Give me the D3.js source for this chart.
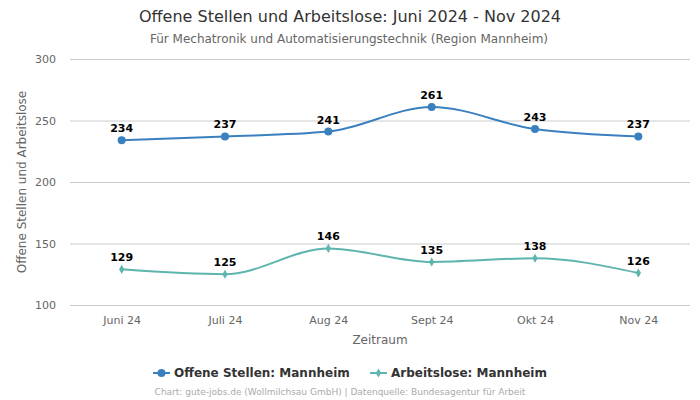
<!DOCTYPE html>
<html><head><meta charset="utf-8">
<script src="https://cdn.jsdelivr.net/npm/d3@7"></script>
<style>body{margin:0;background:#fff;font-family:"DejaVu Sans",sans-serif;}</style>
</head><body><svg id="c" width="700" height="400"></svg>
<script>
const categories = ["Juni 24","Juli 24","Aug 24","Sept 24","Okt 24","Nov 24"];
const offeneStellen = [234,237,241,261,243,237];
const arbeitslose = [129,125,146,135,138,126];
const yTicks = [100,150,200,250,300];
const seriesNames = ["Offene Stellen: Mannheim","Arbeitslose: Mannheim"];

const svg = d3.select("#c");
const pLeft=70,pRight=690,pTop=59,pBottom=305;
const x = d3.scalePoint().domain(categories).range([pLeft,pRight]).padding(0.5);
const y = d3.scaleLinear().domain([100,300]).range([pBottom,pTop]);

svg.append("text").attr("x",350).attr("y",22).attr("text-anchor","middle")
  .attr("font-size",16).attr("fill","#333").text("Offene Stellen und Arbeitslose: Juni 2024 - Nov 2024");
svg.append("text").attr("x",349).attr("y",43).attr("text-anchor","middle")
  .attr("font-size",12).attr("fill","#666").text("Für Mechatronik und Automatisierungstechnik (Region Mannheim)");

const yAxis = d3.axisLeft(y).tickValues(yTicks).tickSize(-(pRight-pLeft)).tickPadding(14);
const gy = svg.append("g").attr("transform",`translate(${pLeft},0)`).call(yAxis);
gy.select(".domain").remove();
gy.selectAll("line").attr("stroke","#ccc");
gy.selectAll("text").attr("font-size",11).attr("fill","#666").attr("font-family","DejaVu Sans");

const xAxis = d3.axisBottom(x).tickSize(0).tickPadding(11);
const gx = svg.append("g").attr("transform",`translate(0,${pBottom})`).call(xAxis);
gx.select(".domain").remove();
gx.selectAll("text").attr("font-size",11).attr("fill","#666").attr("font-family","DejaVu Sans");

svg.append("text").attr("x",380).attr("y",344).attr("text-anchor","middle")
  .attr("font-size",12).attr("fill","#666").text("Zeitraum");
svg.append("text").attr("transform",`translate(26,182) rotate(-90)`).attr("text-anchor","middle")
  .attr("font-size",12).attr("fill","#666").text("Offene Stellen und Arbeitslose");

const line = d3.line().x((d,i)=>x(categories[i])).y(d=>y(d)).curve(d3.curveMonotoneX);
const series = [
  {vals:offeneStellen,color:"#3a80bf",sym:"circle"},
  {vals:arbeitslose,color:"#5db5ad",sym:"diamond"}
];
series.forEach(s=>{
  svg.append("path").attr("d",line(s.vals)).attr("fill","none").attr("stroke",s.color).attr("stroke-width",2);
  s.vals.forEach((v,i)=>{
    const cx=x(categories[i]), cy=y(v);
    if(s.sym==="circle") svg.append("circle").attr("cx",cx).attr("cy",cy).attr("r",4).attr("fill",s.color);
    else svg.append("path").attr("d",d3.symbol(d3.symbolDiamond,24)()).attr("transform",`translate(${cx},${cy})`).attr("fill",s.color);
    svg.append("text").attr("x",cx).attr("y",cy-8).attr("text-anchor","middle")
      .attr("font-size",11).attr("font-weight","bold").attr("fill","#000").text(v);
  });
});

// legend
const lg=[{x:153,c:"#3a80bf",sym:"circle"},{x:370,c:"#5db5ad",sym:"diamond"}];
lg.forEach((l,i)=>{
  svg.append("line").attr("x1",l.x).attr("x2",l.x+17).attr("y1",373).attr("y2",373).attr("stroke",l.c).attr("stroke-width",2);
  if(l.sym==="circle") svg.append("circle").attr("cx",l.x+8.5).attr("cy",373).attr("r",4).attr("fill",l.c);
  else svg.append("path").attr("d",d3.symbol(d3.symbolDiamond,24)()).attr("transform",`translate(${l.x+8.5},373)`).attr("fill",l.c);
  svg.append("text").attr("x",l.x+21).attr("y",377).attr("font-size",12).attr("font-weight","bold").attr("fill","#333").text(seriesNames[i]);
});
svg.append("text").attr("x",340).attr("y",395).attr("text-anchor","middle")
  .attr("font-size",9).attr("fill","#aaa").text("Chart: gute-jobs.de (Wollmilchsau GmbH) | Datenquelle: Bundesagentur für Arbeit");
</script></body></html>
